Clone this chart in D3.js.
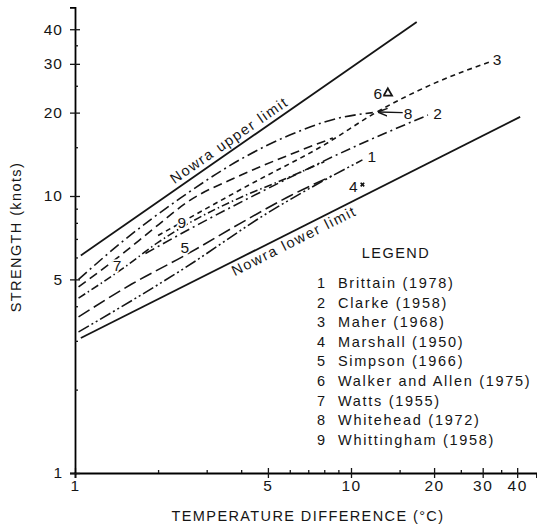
<!DOCTYPE html>
<html>
<head>
<meta charset="utf-8">
<script src="https://cdn.jsdelivr.net/npm/d3@7"></script>
<style>
  body { margin: 0; background: #fff; }
  text { font-family: "Liberation Sans", Arial, sans-serif; fill: #151515; }
</style>
</head>
<body>
<script>
// tick values (log axes)
var xTicks = [1, 5, 10, 20, 30, 40];
var yTicks = [1, 5, 10, 20, 30, 40];
var minorTicks = [2, 3, 4, 6, 7, 8, 9, 15, 25, 35];

// legend
var studyNumbers = [1, 2, 3, 4, 5, 6, 7, 8, 9];
var studyNames = ["Brittain (1978)", "Clarke (1958)", "Maher (1968)", "Marshall (1950)",
  "Simpson (1966)", "Walker and Allen (1975)", "Watts (1955)", "Whitehead (1972)", "Whittingham (1958)"];

// [temperature difference, strength]
var nowraUpper = [[1.05, 6.1], [17.3, 42.5]];
var nowraLower = [[1.05, 3.07], [41, 19.3]];
var brittain = [[1.03, 3.23], [2.5, 5.5], [5, 8.7], [8, 11.4], [11, 13.5]];
var clarke = [[1.8, 6.2], [2.8, 7.9], [4.68, 10.3], [10.2, 15], [19, 19.6]];
var maher = [[2.0, 7.2], [4.3, 11.0], [8, 15.3], [12.4, 20.1], [20, 25.5], [31.9, 30.5]];
var marshall = [[11.0, 11.0]];
var simpson = [[1.03, 3.66], [1.6, 4.8], [2.5, 6.1], [4, 8.0], [6, 10.0], [8.5, 11.8]];
var walkerAllen = [[13.6, 23.5]];
var watts = [[1.03, 4.7], [1.43, 6.0], [1.95, 7.7], [2.55, 9.5], [4, 11.9], [6, 14.1], [8.6, 16.2]];
var whitehead = [[1.03, 5.0], [1.5, 6.9], [2.4, 9.8], [4, 13.6], [6, 16.6], [9, 19.1], [12.0, 20.0]];
var whittingham = [[1.03, 4.28], [1.5, 5.5], [2.0, 6.8], [2.6, 8.0], [4, 9.9], [5.5, 11.3], [8, 13.3]];

var width = 537, height = 525;

var svg = d3.select("body").append("svg")
    .attr("width", width)
    .attr("height", height);

var x = d3.scaleLog().domain([1, 47]).range([75, 536.5]);
var y = d3.scaleLog().domain([1, 48]).range([473, 7.3]);

var fmt = d3.format("d");

// x axis: labelled ticks below, crossing stubs above, minor ticks inside
svg.append("g")
    .attr("transform", "translate(0,473)")
    .call(d3.axisBottom(x).tickValues(xTicks).tickFormat(fmt).tickSizeOuter(0).tickSize(5).tickPadding(2))
    .call(function(g) {
      g.select(".domain").attr("stroke-width", 1.8);
      g.selectAll("text").attr("font-size", 15.5).attr("fill", "#151515").style("letter-spacing", "1.5px");
    });
svg.append("g")
    .attr("transform", "translate(0,473)")
    .call(d3.axisTop(x).tickValues(xTicks).tickFormat("").tickSizeOuter(0).tickSize(5))
    .call(function(g) { g.select(".domain").remove(); });
svg.append("g")
    .attr("transform", "translate(0,473)")
    .call(d3.axisTop(x).tickValues(minorTicks).tickFormat("").tickSizeOuter(0).tickSize(3))
    .call(function(g) { g.select(".domain").remove(); });

// y axis
svg.append("g")
    .attr("transform", "translate(75,0)")
    .call(d3.axisLeft(y).tickValues(yTicks).tickFormat(fmt).tickSizeOuter(0).tickSize(5).tickPadding(7))
    .call(function(g) {
      g.select(".domain").attr("stroke-width", 1.8);
      g.selectAll("text").attr("font-size", 15.5).attr("fill", "#151515").style("letter-spacing", "1px");
    });
svg.append("g")
    .attr("transform", "translate(75,0)")
    .call(d3.axisRight(y).tickValues(yTicks).tickFormat("").tickSizeOuter(0).tickSize(5))
    .call(function(g) { g.select(".domain").remove(); });
svg.append("g")
    .attr("transform", "translate(75,0)")
    .call(d3.axisRight(y).tickValues(minorTicks).tickFormat("").tickSizeOuter(0).tickSize(3))
    .call(function(g) { g.select(".domain").remove(); });

svg.selectAll(".tick line").attr("stroke", "#151515").attr("stroke-width", 1.3);

// axis titles
svg.append("text")
    .attr("x", 308).attr("y", 521)
    .attr("text-anchor", "middle")
    .attr("font-size", 14.5)
    .style("letter-spacing", "1.4px")
    .text("TEMPERATURE DIFFERENCE (°C)");

svg.append("text")
    .attr("transform", "translate(21,237) rotate(-90)")
    .attr("text-anchor", "middle")
    .attr("font-size", 14.5)
    .style("letter-spacing", "1.4px")
    .text("STRENGTH (knots)");

var line = d3.line()
    .x(function(d) { return x(d[0]); })
    .y(function(d) { return y(d[1]); })
    .curve(d3.curveMonotoneX);

// Nowra limits
[nowraUpper, nowraLower].forEach(function(d) {
  svg.append("path")
      .attr("d", line(d))
      .attr("fill", "none")
      .attr("stroke", "#151515")
      .attr("stroke-width", 1.8);
});

var curves = [
  { data: brittain, dash: "12,3,2,3,2,3" },
  { data: clarke, dash: "10,4,2,4" },
  { data: maher, dash: "5,4" },
  { data: simpson, dash: "13,5" },
  { data: watts, dash: "9,5" },
  { data: whitehead, dash: "11,4,2,4" },
  { data: whittingham, dash: "8,3,1.5,3" }
];

svg.selectAll(".study")
    .data(curves)
  .enter().append("path")
    .attr("class", "study")
    .attr("d", function(d) { return line(d.data); })
    .attr("fill", "none")
    .attr("stroke", "#151515")
    .attr("stroke-width", 1.6)
    .attr("stroke-dasharray", function(d) { return d.dash; });

// single observations
svg.append("path")
    .attr("d", d3.symbol().type(d3.symbolTriangle).size(30)())
    .attr("transform", "translate(" + x(walkerAllen[0][0]) + "," + y(walkerAllen[0][1]) + ")")
    .attr("fill", "none").attr("stroke", "#151515").attr("stroke-width", 1.8);
svg.append("path")
    .attr("d", d3.symbol().type(d3.symbolCross).size(14)())
    .attr("transform", "translate(" + x(marshall[0][0]) + "," + y(marshall[0][1]) + ") rotate(45)")
    .attr("fill", "#151515");

// arrow from label 8
svg.append("defs").append("marker")
    .attr("id", "arr").attr("viewBox", "0 0 10 10")
    .attr("refX", 9).attr("refY", 5)
    .attr("markerWidth", 7).attr("markerHeight", 7)
    .attr("orient", "auto")
  .append("path").attr("d", "M0,1 L10,5 L0,9").attr("fill", "none").attr("stroke", "#151515").attr("stroke-width", 1.5);
svg.append("line")
    .attr("x1", x(15.4)).attr("y1", y(20))
    .attr("x2", x(12.6)).attr("y2", y(20.1))
    .attr("stroke", "#151515").attr("stroke-width", 1.4)
    .attr("marker-end", "url(#arr)");

// curve number labels
var labelAt = [[11.9, 13.9], [20.6, 19.9], [33.8, 31], [10.2, 10.8], [2.5, 6.5],
               [12.5, 23.5], [1.42, 5.63], [16.1, 19.9], [2.44, 8.0]];
svg.selectAll(".num")
    .data(studyNumbers)
  .enter().append("text")
    .attr("class", "num")
    .attr("x", function(d, i) { return x(labelAt[i][0]); })
    .attr("y", function(d, i) { return y(labelAt[i][1]); })
    .attr("dy", "0.36em")
    .attr("text-anchor", "middle")
    .attr("font-size", 15.5)
    .attr("stroke", "#fff").attr("stroke-width", 3)
    .style("paint-order", "stroke")
    .text(function(d) { return d; });

// Nowra labels along the limit lines
function lineLabel(pts, t, offset, txt) {
  var x0 = x(pts[0][0]), y0 = y(pts[0][1]), x1 = x(pts[1][0]), y1 = y(pts[1][1]);
  var ang = Math.atan2(y1 - y0, x1 - x0);
  var px = x(t), py = y0 + (px - x0) * (y1 - y0) / (x1 - x0);
  svg.append("text")
      .attr("transform", "translate(" + px + "," + py + ") rotate(" + ang * 180 / Math.PI + ") translate(0," + offset + ")")
      .attr("font-size", 14.5)
      .style("letter-spacing", "1.6px")
      .text(txt);
}
lineLabel(nowraUpper, 2.35, -5, "Nowra upper limit");
lineLabel(nowraLower, 3.6, 14, "Nowra lower limit");

// legend
svg.append("text")
    .attr("x", 396).attr("y", 258)
    .attr("text-anchor", "middle")
    .attr("font-size", 14.5)
    .style("letter-spacing", "1.5px")
    .text("LEGEND");

var leg = svg.selectAll(".leg")
    .data(studyNames)
  .enter().append("g")
    .attr("class", "leg")
    .attr("transform", function(d, i) { return "translate(0," + (288 + i * 19.6) + ")"; });
leg.append("text")
    .attr("x", 321)
    .attr("text-anchor", "middle")
    .attr("font-size", 14.5)
    .text(function(d, i) { return studyNumbers[i]; });
leg.append("text")
    .attr("x", 338)
    .attr("font-size", 14.5)
    .style("letter-spacing", "1.7px")
    .text(function(d) { return d; });
</script>
</body>
</html>
